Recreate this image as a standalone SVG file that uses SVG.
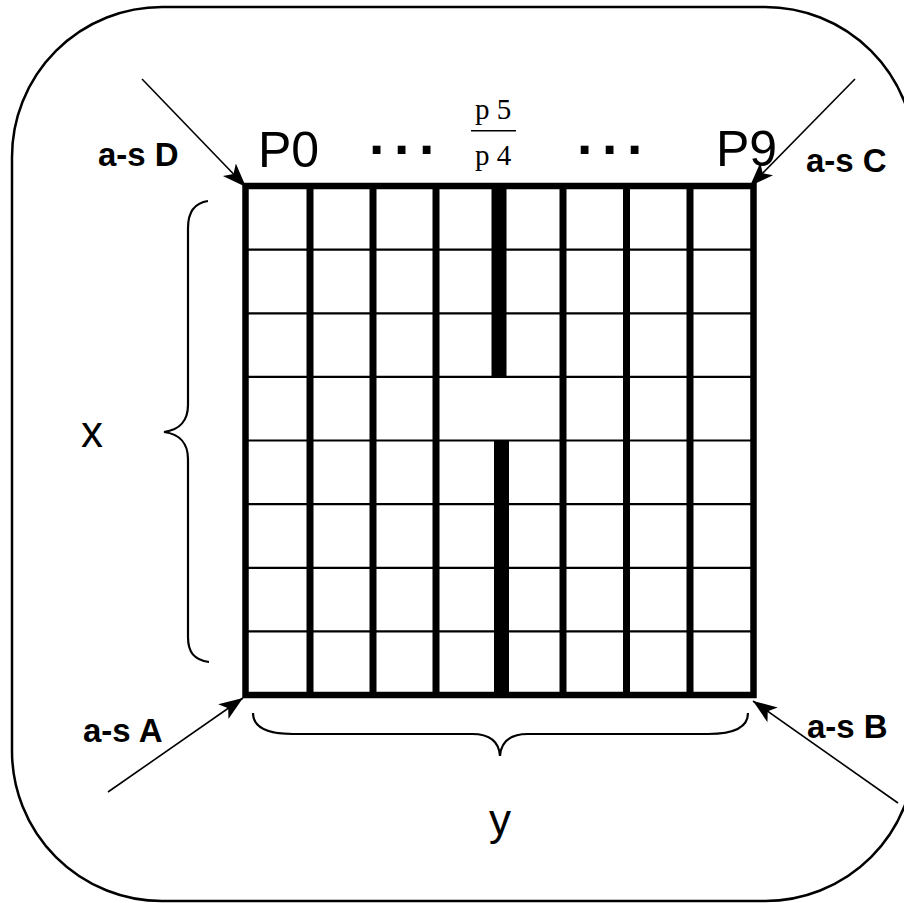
<svg xmlns="http://www.w3.org/2000/svg" width="904" height="903" viewBox="0 0 904 903">
  <style>
    .frame { fill: none; stroke: #000; stroke-width: 2.5; }
    .hline { stroke: #000; stroke-width: 2.2; }
    .vline { stroke: #000; stroke-width: 7; }
    .border { fill: none; stroke: #000; stroke-width: 6.5; }
    .thick { fill: #000; }
    .brace { fill: none; stroke: #000; stroke-width: 2.2; }
    .arrow { stroke: #000; stroke-width: 1.6; fill: none; marker-end: url(#stealth); }
    .as { font-family: "Liberation Sans", Arial, sans-serif; font-weight: bold; font-size: 33px; fill: #000; }
    .big { font-family: "Liberation Sans", Arial, sans-serif; font-size: 50px; fill: #000; }
    .dots { font-family: "Liberation Sans", Arial, sans-serif; font-weight: bold; font-size: 55px; letter-spacing: 9.7px; fill: #000; }
    .frac { font-family: "Liberation Serif", "Times New Roman", serif; font-size: 29px; fill: #000; }
    .axis { font-family: "Liberation Sans", Arial, sans-serif; font-size: 44px; fill: #000; }
  </style>
  <defs>
    <marker id="stealth" markerUnits="userSpaceOnUse" markerWidth="26" markerHeight="20" refX="24" refY="9" orient="auto">
      <path d="M0,0 L24,9 L0,18 L6,9 Z" fill="#000"/>
    </marker>
  </defs>

  <rect id="frame" class="frame" x="12" y="7" width="903" height="894" rx="150" ry="150"/>

  <g id="grid">
    <g id="rows">
      <line class="hline" x1="245" y1="249.6" x2="754" y2="249.6"/>
      <line class="hline" x1="245" y1="313.3" x2="754" y2="313.3"/>
      <line class="hline" x1="245" y1="376.9" x2="754" y2="376.9"/>
      <line class="hline" x1="245" y1="440.5" x2="754" y2="440.5"/>
      <line class="hline" x1="245" y1="504.1" x2="754" y2="504.1"/>
      <line class="hline" x1="245" y1="567.8" x2="754" y2="567.8"/>
      <line class="hline" x1="245" y1="631.4" x2="754" y2="631.4"/>
    </g>
    <g id="columns">
      <line class="vline" x1="310" y1="186" x2="310" y2="695"/>
      <line class="vline" x1="373" y1="186" x2="373" y2="695"/>
      <line class="vline" x1="436" y1="186" x2="436" y2="695"/>
      <line class="vline" x1="563" y1="186" x2="563" y2="695"/>
      <line class="vline" x1="626.5" y1="186" x2="626.5" y2="695"/>
      <line class="vline" x1="690" y1="186" x2="690" y2="695"/>
    </g>
    <g id="divider">
      <rect class="thick" x="491.5" y="186" width="15" height="191"/>
      <rect class="thick" x="494" y="440.5" width="15" height="254.5"/>
    </g>
    <rect id="grid-border" class="border" x="245.5" y="186" width="508" height="509"/>
  </g>

  <g id="header">
    <text class="big" x="258" y="167">P0</text>
    <text class="big" x="716" y="166">P9</text>
    <text class="dots" x="369" y="154">...</text>
    <text class="dots" x="577" y="154">...</text>
    <g id="fraction">
      <text class="frac" x="493" y="119" text-anchor="middle">p 5</text>
      <line x1="471" y1="130.7" x2="516" y2="130.7" stroke="#000" stroke-width="1.6"/>
      <text class="frac" x="493" y="165" text-anchor="middle">p 4</text>
    </g>
  </g>

  <g id="labels">
    <text class="as" x="98" y="166">a-s D</text>
    <text class="as" x="806" y="172">a-s C</text>
    <text class="as" x="83" y="742">a-s A</text>
    <text class="as" x="807" y="738">a-s B</text>
  </g>

  <g id="braces">
    <path id="brace-x" class="brace" d="M208,201 C194,203 188,212 188,228 L188,405 C188,420 180,430 164,432 C180,434 188,444 188,459 L188,637 C188,652 194,660 209,662"/>
    <text class="axis" x="92" y="447" text-anchor="middle">x</text>
    <path id="brace-y" class="brace" d="M253,713 C253,728 268,734 293,734 L472,734 C490,734 499,742 500,756 C501,742 510,734 528,734 L708,734 C732,734 748,728 748,713"/>
    <text class="axis" x="500" y="835" text-anchor="middle">y</text>
  </g>

  <g id="connectors">
    <line id="arrow-D" class="arrow" x1="142" y1="79" x2="246" y2="187"/>
    <line id="arrow-C" class="arrow" x1="855" y1="79" x2="750" y2="186"/>
    <line id="arrow-A" class="arrow" x1="108" y1="792" x2="243" y2="698"/>
    <line id="arrow-B" class="arrow" x1="898" y1="803" x2="753" y2="701"/>
  </g>
</svg>
